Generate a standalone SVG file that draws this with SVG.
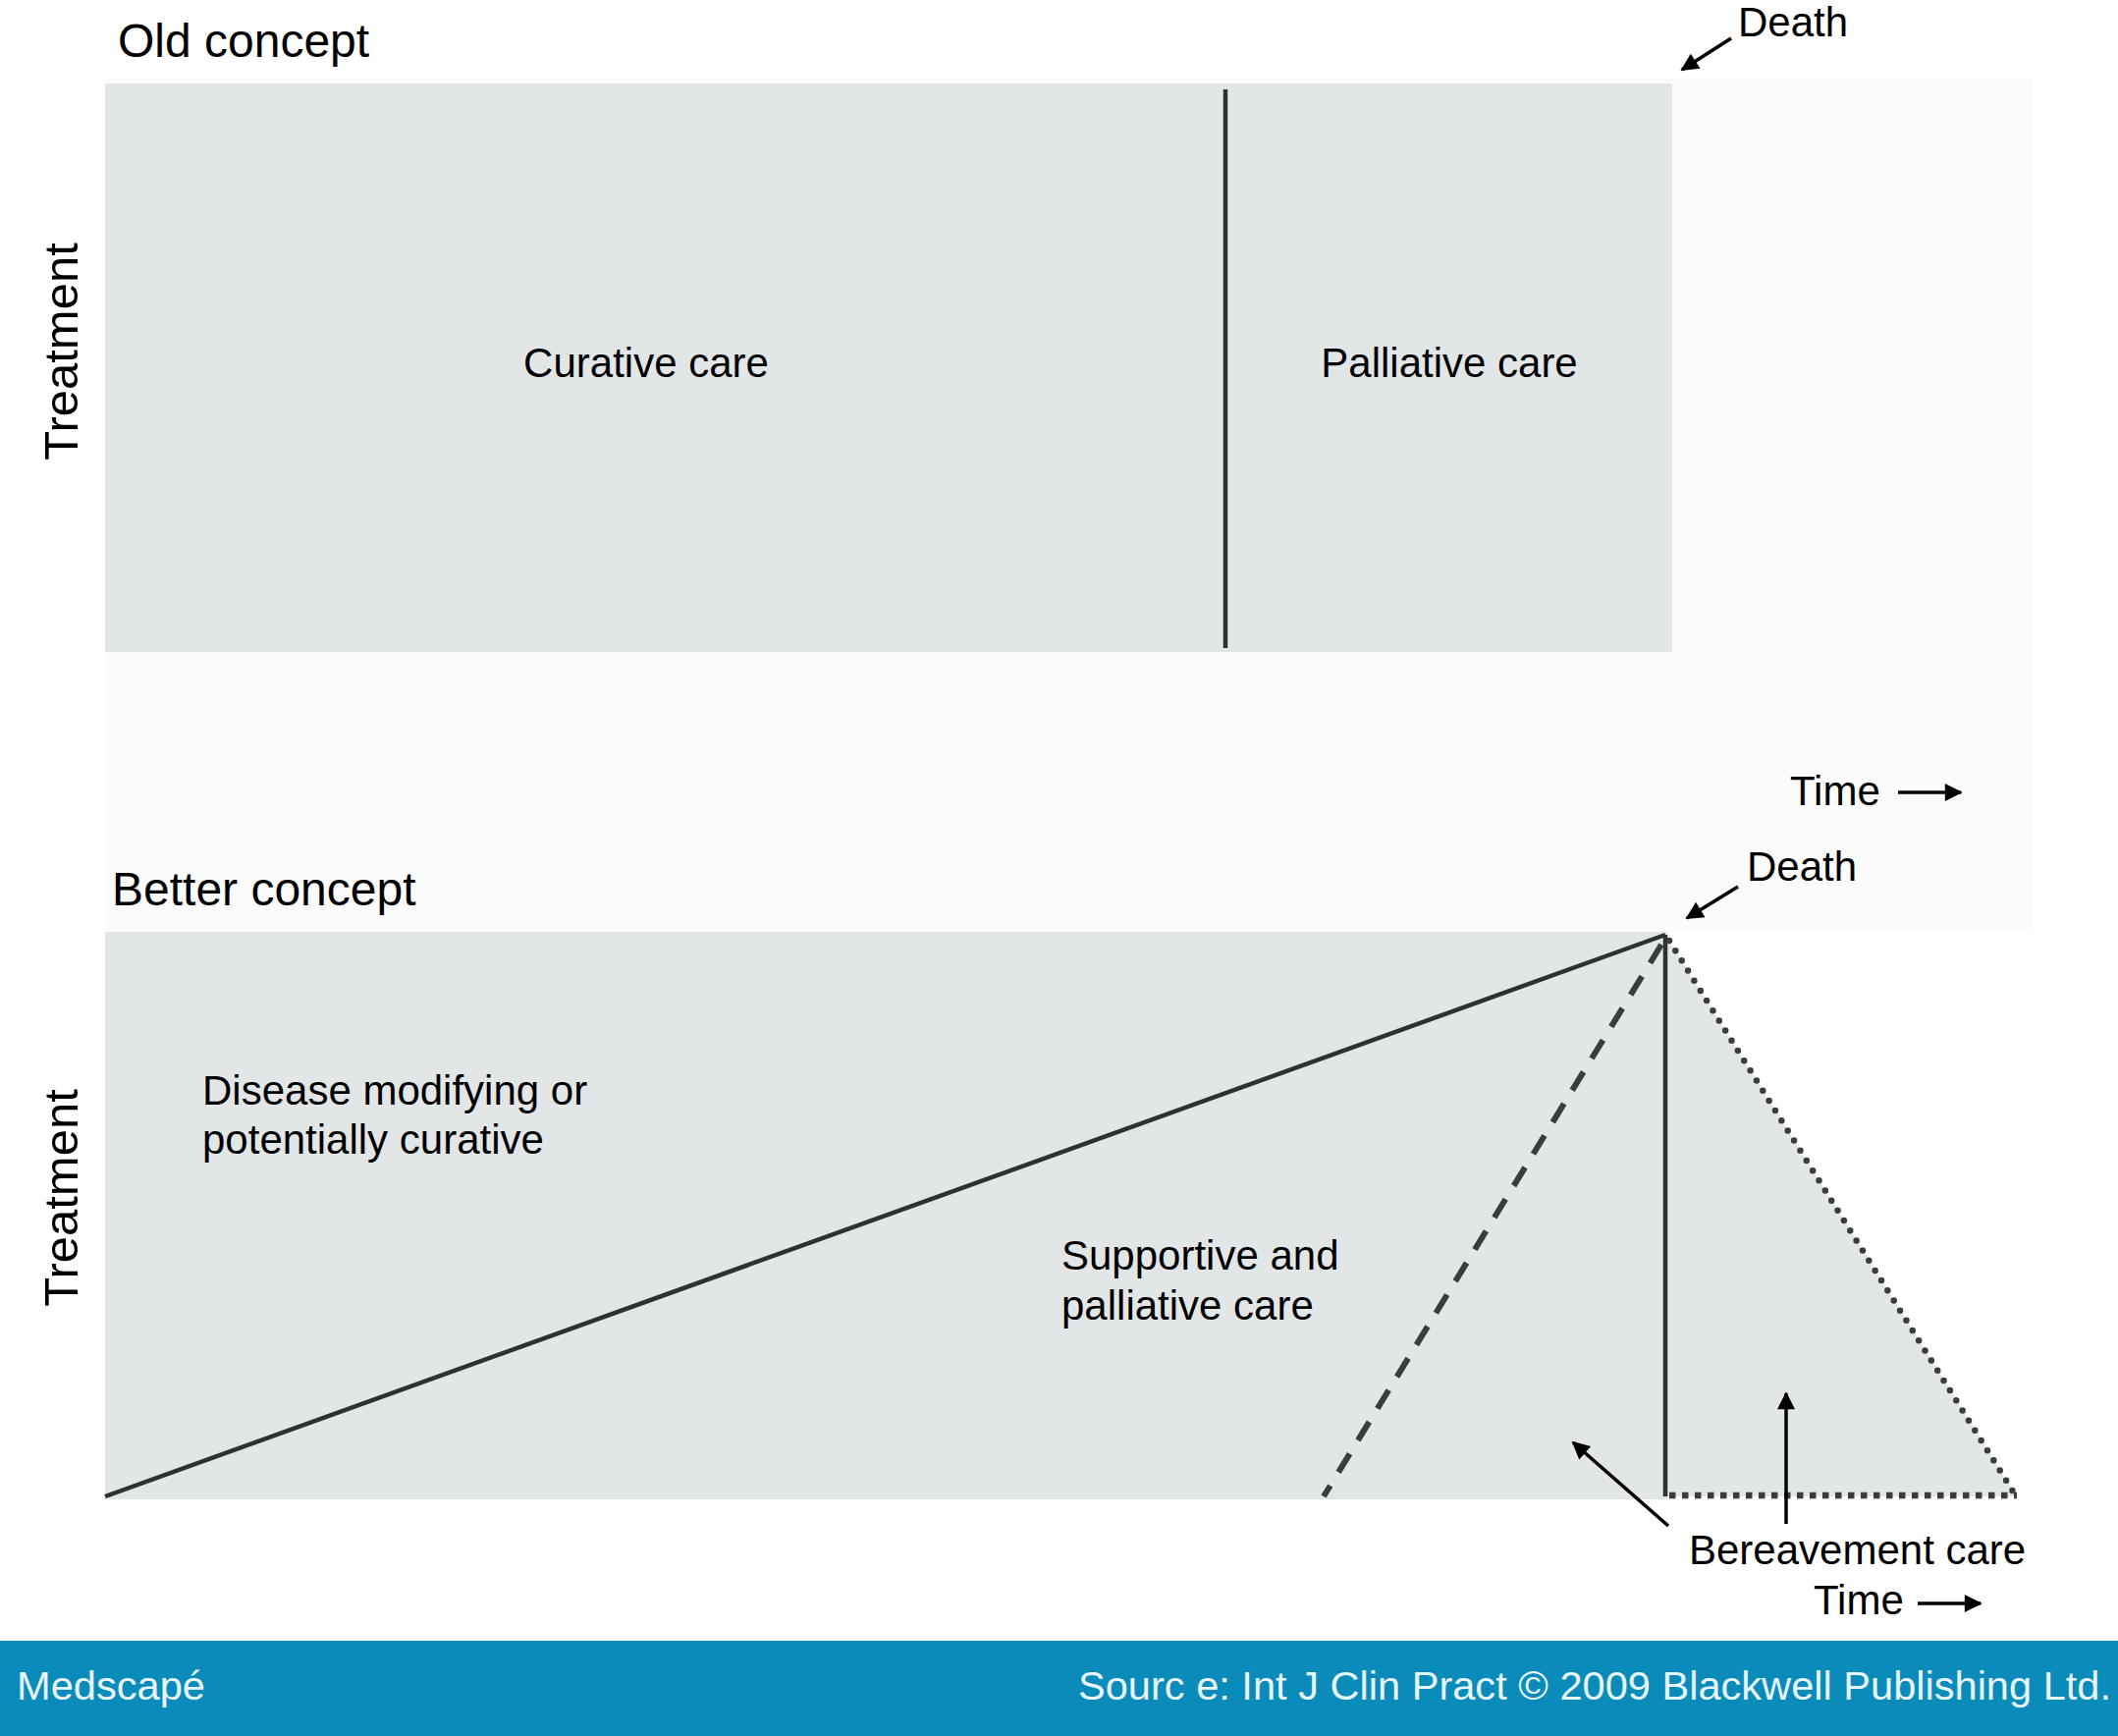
<svg xmlns="http://www.w3.org/2000/svg" width="2157" height="1768" viewBox="0 0 2157 1768">
<style>
text{font-family:"Liberation Sans",Arial,sans-serif;fill:#000}
.title{font-size:48px}
.lbl{font-size:42px}
.axis{font-size:49px}
.panel{fill:#e3e6e7}
.solid{stroke:#2e3133;stroke-width:4.5;fill:none}
.arr{stroke:#000;stroke-width:3.5;fill:none;marker-end:url(#ah)}
.foot{font-size:40px;fill:#e6f6fc}
</style>
<defs>
<marker id="ah" viewBox="0 0 10 10" refX="9" refY="5" markerWidth="24" markerHeight="18" markerUnits="userSpaceOnUse" orient="auto">
<path d="M0,0 L10,5 L0,10 z" fill="#000"/>
</marker>
</defs>
<rect x="0" y="0" width="2157" height="1768" fill="#ffffff"/>
<rect x="107" y="80" width="1963" height="870" fill="#fbfbfb"/>

<g id="old-concept">
<text class="title" x="120" y="58">Old concept</text>
<rect class="panel" x="107" y="85" width="1596" height="579"/>
<text class="lbl" x="658" y="384" text-anchor="middle">Curative care</text>
<text class="lbl" x="1476" y="384" text-anchor="middle">Palliative care</text>
<text class="axis" transform="translate(79,358) rotate(-90)" text-anchor="middle">Treatment</text>
<text class="lbl" x="1770" y="37">Death</text>
<text class="lbl" x="1823" y="820">Time</text>
</g>

<g id="better-concept">
<text class="title" x="114" y="922">Better concept</text>
<rect class="panel" x="107" y="949" width="1591" height="578"/>
<polygon class="panel" points="1696,952 2054,1524 1696,1524"/>
<text class="axis" transform="translate(79,1220) rotate(-90)" text-anchor="middle">Treatment</text>
<text class="lbl" x="206" y="1125">Disease modifying or</text>
<text class="lbl" x="206" y="1175">potentially curative</text>
<text class="lbl" x="1081" y="1293">Supportive and</text>
<text class="lbl" x="1081" y="1344">palliative care</text>
<text class="lbl" x="1779" y="897">Death</text>
<text class="lbl" x="1720" y="1593">Bereavement care</text>
<text class="lbl" x="1847" y="1644">Time</text>
</g>

<g id="connectors">
<line class="solid" x1="1248" y1="91" x2="1248" y2="660"/>
<line class="solid" x1="107" y1="1524" x2="1696" y2="952"/>
<line class="solid" x1="1696" y1="952" x2="1696" y2="1524"/>
<line x1="1692" y1="962" x2="1348" y2="1524" stroke="#3a3d40" stroke-width="6" stroke-dasharray="22 16"/>
<line x1="1700" y1="958" x2="2052" y2="1522" stroke="#3a3d40" stroke-width="6.5" stroke-linecap="round" stroke-dasharray="0 12"/>
<line x1="1700" y1="1523" x2="2054" y2="1523" stroke="#3a3d40" stroke-width="6.5" stroke-dasharray="6.5 6.5"/>
<line class="arr" x1="1763" y1="39" x2="1713" y2="71"/>
<line class="arr" x1="1933" y1="807" x2="1997" y2="807"/>
<line class="arr" x1="1770" y1="903" x2="1718" y2="935"/>
<line class="arr" x1="1699" y1="1554" x2="1602" y2="1469"/>
<line class="arr" x1="1819" y1="1552" x2="1819" y2="1419"/>
<line class="arr" x1="1953" y1="1633" x2="2017" y2="1633"/>
</g>

<g id="footer">
<rect x="0" y="1671" width="2157" height="97" fill="#0b8bba"/>
<text class="foot" x="17" y="1731" textLength="192" lengthAdjust="spacingAndGlyphs">Medscapé</text>
<text class="foot" x="1098" y="1731" textLength="1052" lengthAdjust="spacingAndGlyphs">Sourc e: Int J Clin Pract © 2009 Blackwell Publishing Ltd.</text>
</g>
</svg>
